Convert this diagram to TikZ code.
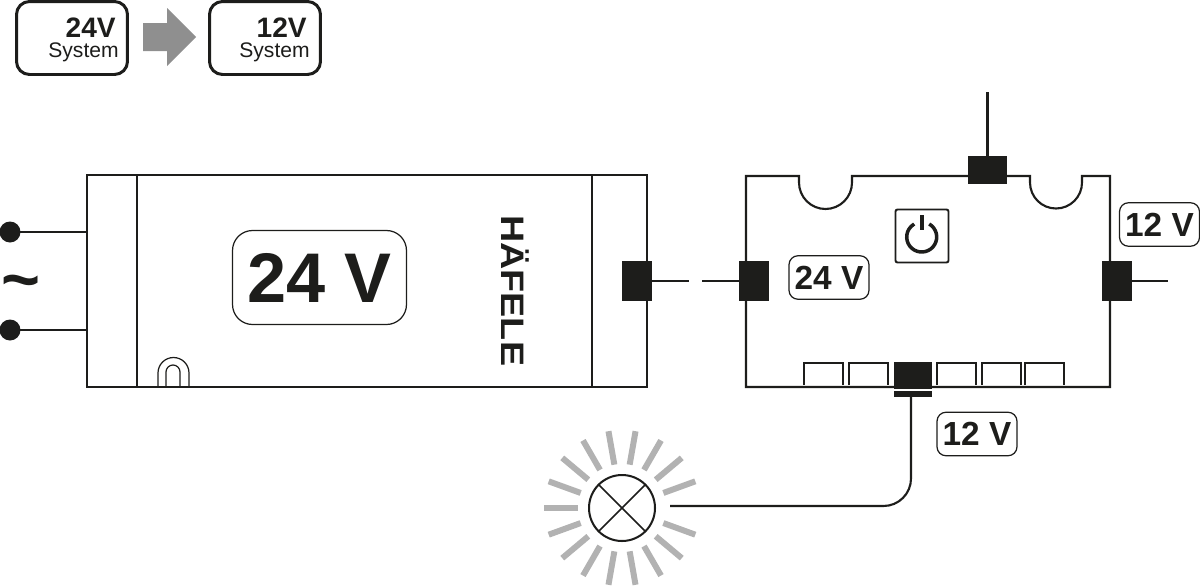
\documentclass[tikz,border=0pt]{standalone}
\usepackage{fontspec}
\setmainfont{Liberation Sans}
\usepackage{xcolor}
\usepackage{tikz}
\usetikzlibrary{calc,positioning}
\definecolor{ink}{HTML}{1D1D1B}
\definecolor{rays}{HTML}{B2B2B2}
\definecolor{shift arrow}{HTML}{8F8F8F}

\begin{document}
\begin{tikzpicture}[
    x=0.02cm,y=-0.02cm,
    % 1 unit is one pixel of the picture, y runs downwards
    casing/.style={draw=ink,line width=1.2pt,inner sep=0pt,outer sep=0pt},
    divider/.style={draw=ink,line width=.7pt},
    wire/.style={draw=ink,line width=1.2pt},
    plug/.style={
        % The shape:
        rectangle,inner sep=0pt,outer sep=0pt,
        minimum width=6mm,minimum height=8mm,
        % The fill
        fill=ink},
    contact/.style={circle,fill=ink,inner sep=0pt,outer sep=0pt,minimum size=4.2mm},
    sysbox/.style={
        draw=ink,line width=1.7pt,rounded corners=2.6mm,
        inner sep=0pt,minimum width=22.2mm,minimum height=14.6mm},
    systext/.style={anchor=base east,inner sep=0pt,text=ink,font=\fontsize{12}{14}\selectfont},
    sysvolts/.style={systext,font=\fontsize{16}{18}\selectfont\bfseries},
    tag/.style={
        draw=ink,line width=.7pt,rounded corners=1.8mm,
        minimum width=16mm,minimum height=8.7mm,inner sep=0pt,
        text=ink,font=\fontsize{19}{22}\selectfont\bfseries},
    socket/.style={draw=ink,line width=.7pt},
    ray/.style={draw=rays,line width=3.4pt}
  ]
  \useasboundingbox (0,0) rectangle (1200,585);

  % system change, top left
  \node (from box) [sysbox] at (72,38) {};
  \node (to box) [sysbox] at (265,38) {};
  \node (from volts) [sysvolts] at (116,37) {24V};
  \node (from system) [systext] at (119,57) {System};
  \node (to volts) [sysvolts] at (307,37) {12V};
  \node (to system) [systext] at (310,57) {System};
  \fill [shift arrow] (143,23) -- (167,23) -- (167,8) -- (196,37) -- (167,66) -- (167,51) -- (143,51) -- cycle;

  % power supply
  \node (psu) [casing,minimum width=112mm,minimum height=42.4mm] at (367,281) {};
  \draw [divider] (137,175) -- (137,387);
  \draw [divider] (592,175) -- (592,387);
  \draw [divider] (158,387) -- (158,373) arc[start angle=180,end angle=360,radius=15.5] -- (189,387);
  \draw [divider] (166,387) -- (166,372) arc[start angle=180,end angle=360,radius=7] -- (180,387);
  \node (psu label) [tag,minimum width=34.8mm,minimum height=18.8mm,rounded corners=4mm,
    font=\fontsize{40}{46}\selectfont\bfseries] at (319.5,277.5) {24 V};
  \node (brand) [rotate=-90,anchor=base west,inner sep=0pt,text=ink,
    font=\fontsize{18.5}{20}\selectfont\bfseries] at (501.5,215) {\scalebox{1.16}[1]{HÄFELE}};

  % mains side
  \node (live) [contact] at (10,232) {};
  \node (neutral) [contact] at (10,330) {};
  \node (mains) [inner sep=0pt,text=ink,font=\fontsize{38}{40}\selectfont\bfseries] at (21,289) {\textasciitilde};
  \draw [wire] (live) -- (psu.west |- live);
  \draw [wire] (neutral) -- (psu.west |- neutral);

  % distributor
  \coordinate (hub nw) at (746,176);
  \draw [casing] (hub nw) -- (799,176) -- (799,182.5) arc[start angle=180,end angle=0,radius=26.5] -- (852,176)
    -- (1030,176) -- (1030,182.5) arc[start angle=180,end angle=0,radius=26] -- (1082,176)
    -- (1110,176) -- (1110,387) -- (746,387) -- cycle;
  \foreach \sx in {804,849,937,982,1025}
    \draw [socket] (\sx,385) -- (\sx,363) -- ++(39,0) -- ++(0,22);
  \node (power) [draw=ink,line width=1.1pt,rounded corners=.4mm,minimum size=10.6mm,inner sep=0pt] at (922,236) {};
  \draw [ink,line width=2pt] (929.2,224) arc[start angle=-60,end angle=240,radius=15];
  \draw [ink,line width=2pt] (power.center) ++(0,-21) -- ++(0,15);
  \node (in tag) [tag] at (829,277.5) {24 V};
  \node (out tag) [tag] at (1159.5,224.5) {12 V};
  \node (dock tag) [tag] at (977,434) {12 V};

  % plugs and their leads
  \node (psu plug) [plug] at (637,281) {};
  \node (in plug) [plug] at (754,281) {};
  \node (out plug) [plug] at (1116.5,281) {};
  \node (top plug) [plug,minimum width=7.8mm,minimum height=5.6mm] at (987.5,170) {};
  \node (dock plug) [plug,minimum width=7.6mm,minimum height=5.4mm] at (913,375) {};
  \node (dock bar) [plug,minimum width=7.6mm,minimum height=1.2mm] at (913,394) {};
  \coordinate (psu lead) at (689,281);
  \coordinate (in lead) at (702,281);
  \coordinate (out lead) at (1168,281);
  \coordinate (top lead) at (987.5,92);
  \coordinate (lamp lead) at (670,506);
  \draw [wire] (psu plug) -- (psu lead);
  \draw [wire] (in plug) -- (in lead);
  \draw [wire] (out plug) -- (out lead);
  \draw [wire] (top plug) -- (top lead);
  \draw [wire,rounded corners=5.5mm] ([xshift=-.4mm]dock bar.north) |- (lamp lead);

  % lamp
  \node (lamp) [circle,draw=ink,line width=1.15pt,minimum size=13.2mm,inner sep=0pt,outer sep=0pt] at (622,508) {};
  \draw [ink,line width=.85pt] (lamp.45) -- (lamp.225) (lamp.135) -- (lamp.315);
  \foreach \a in {20,40,...,340}
    \draw [ray] ($(lamp)+(\a:44)$) -- ($(lamp)+(\a:78)$);
\end{tikzpicture}
\end{document}
